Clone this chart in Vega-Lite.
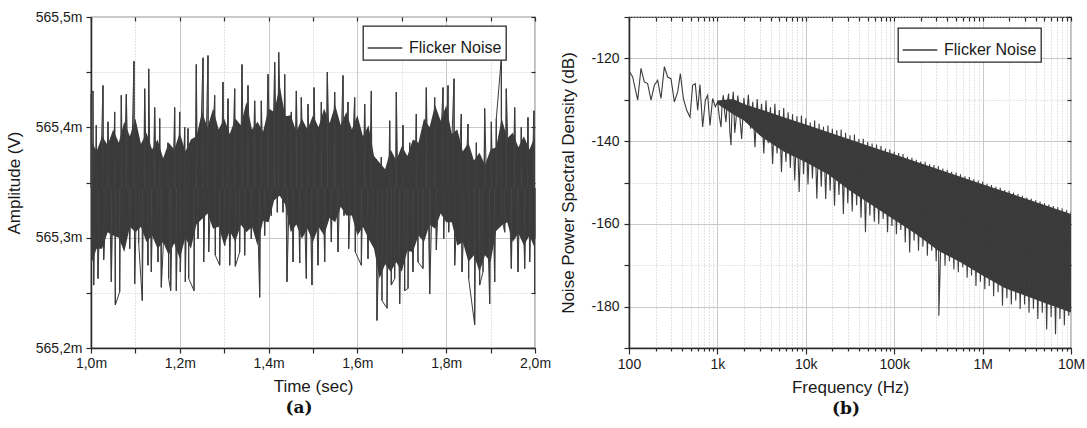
{
  "$schema": "https://vega.github.io/schema/vega-lite/v6.json",
  "background": "white",
  "padding": {"left": 4, "top": 9, "right": 0, "bottom": 0},
  "config": {
    "font": "Liberation Sans",
    "view": {"stroke": "#2a2a2a", "strokeWidth": 1.2},
    "axis": {"labelFont": "Liberation Sans", "labelFontSize": 14, "labelColor": "#1a1a1a", "titleFont": "Liberation Sans", "titleFontSize": 17, "titleFontWeight": "normal", "titleColor": "#1a1a1a", "tickColor": "#2a2a2a", "domainColor": "#2a2a2a", "domainWidth": 1.5, "tickWidth": 1.2, "gridColor": "#c9c9c9", "gridWidth": 1},
    "legend": {"strokeColor": "#2a2a2a", "strokeWidth": 1.3, "fillColor": "white", "padding": 4, "labelFont": "Liberation Sans", "labelFontSize": 16, "labelColor": "#1a1a1a", "symbolType": "stroke", "symbolSize": 1200, "symbolStrokeWidth": 1.3, "labelOffset": 6, "rowPadding": 0},
    "title": {"font": "DejaVu Serif", "fontSize": 17, "fontWeight": "bold", "color": "#111111"}
  },
  "datasets": {
    "a_core": [
      {"t": 1.0, "top": 565.389, "bot": 565.275}, {"t": 1.0125, "top": 565.378, "bot": 565.290}, {"t": 1.025, "top": 565.392, "bot": 565.290}, {"t": 1.0375, "top": 565.384, "bot": 565.305}, {"t": 1.05, "top": 565.398, "bot": 565.302}, {"t": 1.0625, "top": 565.386, "bot": 565.300}, {"t": 1.075, "top": 565.405, "bot": 565.287}, {"t": 1.0875, "top": 565.392, "bot": 565.310}, {"t": 1.1, "top": 565.408, "bot": 565.305}, {"t": 1.1125, "top": 565.385, "bot": 565.310}, {"t": 1.125, "top": 565.395, "bot": 565.296}, {"t": 1.1375, "top": 565.380, "bot": 565.302}, {"t": 1.15, "top": 565.389, "bot": 565.290}, {"t": 1.1625, "top": 565.372, "bot": 565.296}, {"t": 1.175, "top": 565.386, "bot": 565.284}, {"t": 1.1875, "top": 565.380, "bot": 565.295}, {"t": 1.2, "top": 565.395, "bot": 565.281}, {"t": 1.2125, "top": 565.378, "bot": 565.300}, {"t": 1.225, "top": 565.389, "bot": 565.290}, {"t": 1.2375, "top": 565.392, "bot": 565.312}, {"t": 1.25, "top": 565.414, "bot": 565.317}, {"t": 1.2625, "top": 565.400, "bot": 565.322}, {"t": 1.275, "top": 565.417, "bot": 565.308}, {"t": 1.2875, "top": 565.398, "bot": 565.310}, {"t": 1.3, "top": 565.408, "bot": 565.293}, {"t": 1.3125, "top": 565.394, "bot": 565.306}, {"t": 1.325, "top": 565.408, "bot": 565.296}, {"t": 1.3375, "top": 565.402, "bot": 565.312}, {"t": 1.35, "top": 565.423, "bot": 565.305}, {"t": 1.3625, "top": 565.398, "bot": 565.310}, {"t": 1.375, "top": 565.405, "bot": 565.293}, {"t": 1.3875, "top": 565.396, "bot": 565.315}, {"t": 1.4, "top": 565.417, "bot": 565.314}, {"t": 1.4125, "top": 565.414, "bot": 565.334}, {"t": 1.425, "top": 565.438, "bot": 565.338}, {"t": 1.4375, "top": 565.410, "bot": 565.330}, {"t": 1.45, "top": 565.411, "bot": 565.305}, {"t": 1.4625, "top": 565.396, "bot": 565.312}, {"t": 1.475, "top": 565.408, "bot": 565.299}, {"t": 1.4875, "top": 565.398, "bot": 565.308}, {"t": 1.5, "top": 565.411, "bot": 565.296}, {"t": 1.5125, "top": 565.400, "bot": 565.310}, {"t": 1.525, "top": 565.417, "bot": 565.302}, {"t": 1.5375, "top": 565.404, "bot": 565.318}, {"t": 1.55, "top": 565.420, "bot": 565.314}, {"t": 1.5625, "top": 565.402, "bot": 565.328}, {"t": 1.575, "top": 565.414, "bot": 565.320}, {"t": 1.5875, "top": 565.398, "bot": 565.320}, {"t": 1.6, "top": 565.411, "bot": 565.302}, {"t": 1.6125, "top": 565.392, "bot": 565.310}, {"t": 1.625, "top": 565.402, "bot": 565.299}, {"t": 1.6375, "top": 565.374, "bot": 565.290}, {"t": 1.65, "top": 565.368, "bot": 565.263}, {"t": 1.6625, "top": 565.362, "bot": 565.276}, {"t": 1.675, "top": 565.380, "bot": 565.269}, {"t": 1.6875, "top": 565.370, "bot": 565.278}, {"t": 1.7, "top": 565.383, "bot": 565.269}, {"t": 1.7125, "top": 565.374, "bot": 565.288}, {"t": 1.725, "top": 565.389, "bot": 565.287}, {"t": 1.7375, "top": 565.386, "bot": 565.302}, {"t": 1.75, "top": 565.408, "bot": 565.296}, {"t": 1.7625, "top": 565.400, "bot": 565.312}, {"t": 1.775, "top": 565.420, "bot": 565.308}, {"t": 1.7875, "top": 565.406, "bot": 565.322}, {"t": 1.8, "top": 565.420, "bot": 565.314}, {"t": 1.8125, "top": 565.394, "bot": 565.314}, {"t": 1.825, "top": 565.398, "bot": 565.293}, {"t": 1.8375, "top": 565.378, "bot": 565.296}, {"t": 1.85, "top": 565.386, "bot": 565.278}, {"t": 1.8625, "top": 565.370, "bot": 565.284}, {"t": 1.875, "top": 565.377, "bot": 565.269}, {"t": 1.8875, "top": 565.366, "bot": 565.284}, {"t": 1.9, "top": 565.380, "bot": 565.278}, {"t": 1.9125, "top": 565.382, "bot": 565.306}, {"t": 1.925, "top": 565.408, "bot": 565.311}, {"t": 1.9375, "top": 565.390, "bot": 565.314}, {"t": 1.95, "top": 565.395, "bot": 565.296}, {"t": 1.9625, "top": 565.382, "bot": 565.304}, {"t": 1.975, "top": 565.392, "bot": 565.293}, {"t": 1.9875, "top": 565.380, "bot": 565.302}, {"t": 2.0, "top": 565.392, "bot": 565.290}
    ],
    "a_line": [
      {"t": 1.0, "v": 565.430}, {"t": 1.0045, "v": 565.433}, {"t": 1.0120, "v": 565.402}, {"t": 1.0270, "v": 565.438}, {"t": 1.0383, "v": 565.405}, {"t": 1.0533, "v": 565.414}, {"t": 1.0683, "v": 565.429}, {"t": 1.0796, "v": 565.430}, {"t": 1.0968, "v": 565.460}, {"t": 1.1059, "v": 565.389}, {"t": 1.1209, "v": 565.435}, {"t": 1.1299, "v": 565.453}, {"t": 1.1434, "v": 565.418}, {"t": 1.1547, "v": 565.408}, {"t": 1.1734, "v": 565.386}, {"t": 1.1884, "v": 565.418}, {"t": 1.1997, "v": 565.414}, {"t": 1.2110, "v": 565.400}, {"t": 1.2185, "v": 565.399}, {"t": 1.2372, "v": 565.457}, {"t": 1.2523, "v": 565.463}, {"t": 1.2635, "v": 565.465}, {"t": 1.2785, "v": 565.429}, {"t": 1.2973, "v": 565.441}, {"t": 1.3086, "v": 565.426}, {"t": 1.3236, "v": 565.435}, {"t": 1.3401, "v": 565.457}, {"t": 1.3536, "v": 565.438}, {"t": 1.3686, "v": 565.424}, {"t": 1.3836, "v": 565.424}, {"t": 1.3986, "v": 565.448}, {"t": 1.4137, "v": 565.459}, {"t": 1.4227, "v": 565.468}, {"t": 1.4362, "v": 565.448}, {"t": 1.4512, "v": 565.414}, {"t": 1.4625, "v": 565.433}, {"t": 1.4737, "v": 565.427}, {"t": 1.4887, "v": 565.421}, {"t": 1.5023, "v": 565.436}, {"t": 1.5188, "v": 565.423}, {"t": 1.5323, "v": 565.450}, {"t": 1.5488, "v": 565.432}, {"t": 1.5676, "v": 565.447}, {"t": 1.5788, "v": 565.423}, {"t": 1.5938, "v": 565.427}, {"t": 1.6164, "v": 565.421}, {"t": 1.6314, "v": 565.433}, {"t": 1.6426, "v": 565.371}, {"t": 1.6539, "v": 565.373}, {"t": 1.6727, "v": 565.406}, {"t": 1.6877, "v": 565.432}, {"t": 1.7027, "v": 565.402}, {"t": 1.7177, "v": 565.386}, {"t": 1.7327, "v": 565.412}, {"t": 1.7553, "v": 565.436}, {"t": 1.7740, "v": 565.427}, {"t": 1.7928, "v": 565.436}, {"t": 1.8041, "v": 565.438}, {"t": 1.8176, "v": 565.444}, {"t": 1.8341, "v": 565.412}, {"t": 1.8491, "v": 565.403}, {"t": 1.8679, "v": 565.386}, {"t": 1.8866, "v": 565.417}, {"t": 1.9017, "v": 565.405}, {"t": 1.9129, "v": 565.408}, {"t": 1.9242, "v": 565.463}, {"t": 1.9354, "v": 565.435}, {"t": 1.9542, "v": 565.418}, {"t": 1.9692, "v": 565.400}, {"t": 1.9842, "v": 565.409}, {"t": 1.9977, "v": 565.415},
      {"t": 1.0060, "v": 565.257}, {"t": 1.0158, "v": 565.263}, {"t": 1.0285, "v": 565.280}, {"t": 1.0345, "v": 565.329}, {"t": 1.0458, "v": 565.260}, {"t": 1.0548, "v": 565.239}, {"t": 1.0646, "v": 565.251}, {"t": 1.0721, "v": 565.320}, {"t": 1.0871, "v": 565.290}, {"t": 1.0983, "v": 565.258}, {"t": 1.1074, "v": 565.295}, {"t": 1.1156, "v": 565.243}, {"t": 1.1284, "v": 565.275}, {"t": 1.1359, "v": 565.269}, {"t": 1.1509, "v": 565.278}, {"t": 1.1584, "v": 565.255}, {"t": 1.1749, "v": 565.263}, {"t": 1.1794, "v": 565.252}, {"t": 1.1922, "v": 565.252}, {"t": 1.2012, "v": 565.269}, {"t": 1.2125, "v": 565.260}, {"t": 1.2200, "v": 565.263}, {"t": 1.2320, "v": 565.252}, {"t": 1.2410, "v": 565.299}, {"t": 1.2538, "v": 565.278}, {"t": 1.2650, "v": 565.287}, {"t": 1.2800, "v": 565.284}, {"t": 1.2898, "v": 565.275}, {"t": 1.3011, "v": 565.293}, {"t": 1.3123, "v": 565.275}, {"t": 1.3251, "v": 565.274}, {"t": 1.3348, "v": 565.287}, {"t": 1.3461, "v": 565.284}, {"t": 1.3611, "v": 565.299}, {"t": 1.3799, "v": 565.246}, {"t": 1.3911, "v": 565.302}, {"t": 1.4062, "v": 565.320}, {"t": 1.4197, "v": 565.323}, {"t": 1.4324, "v": 565.323}, {"t": 1.4414, "v": 565.260}, {"t": 1.4550, "v": 565.278}, {"t": 1.4700, "v": 565.277}, {"t": 1.4850, "v": 565.263}, {"t": 1.4977, "v": 565.257}, {"t": 1.5113, "v": 565.275}, {"t": 1.5263, "v": 565.278}, {"t": 1.5413, "v": 565.296}, {"t": 1.5563, "v": 565.287}, {"t": 1.5698, "v": 565.320}, {"t": 1.5803, "v": 565.290}, {"t": 1.5953, "v": 565.287}, {"t": 1.6089, "v": 565.275}, {"t": 1.6239, "v": 565.281}, {"t": 1.6336, "v": 565.299}, {"t": 1.6441, "v": 565.225}, {"t": 1.6554, "v": 565.243}, {"t": 1.6667, "v": 565.236}, {"t": 1.6764, "v": 565.257}, {"t": 1.6839, "v": 565.263}, {"t": 1.6952, "v": 565.240}, {"t": 1.7065, "v": 565.252}, {"t": 1.7140, "v": 565.254}, {"t": 1.7252, "v": 565.269}, {"t": 1.7365, "v": 565.278}, {"t": 1.7477, "v": 565.272}, {"t": 1.7628, "v": 565.249}, {"t": 1.7778, "v": 565.289}, {"t": 1.7943, "v": 565.299}, {"t": 1.8056, "v": 565.305}, {"t": 1.8191, "v": 565.275}, {"t": 1.8356, "v": 565.269}, {"t": 1.8506, "v": 565.263}, {"t": 1.8641, "v": 565.221}, {"t": 1.8754, "v": 565.257}, {"t": 1.8829, "v": 565.269}, {"t": 1.8979, "v": 565.240}, {"t": 1.9092, "v": 565.260}, {"t": 1.9257, "v": 565.317}, {"t": 1.9317, "v": 565.305}, {"t": 1.9467, "v": 565.272}, {"t": 1.9617, "v": 565.269}, {"t": 1.9767, "v": 565.272}, {"t": 1.9880, "v": 565.278}, {"t": 1.9992, "v": 565.249}, {"t": 2.0, "v": 565.300}
    ],
    "b_core": [
      {"f": 1000, "top": -130.2, "bot": -131.0}, {"f": 1500, "top": -129.8, "bot": -133.5}, {"f": 1995, "top": -131.0, "bot": -135.0}, {"f": 3162, "top": -132.4, "bot": -139.0}, {"f": 5623, "top": -134.2, "bot": -142.5}, {"f": 10000, "top": -136.0, "bot": -145.1}, {"f": 17783, "top": -137.8, "bot": -148.0}, {"f": 31623, "top": -139.6, "bot": -152.0}, {"f": 56234, "top": -141.4, "bot": -155.5}, {"f": 100000, "top": -143.2, "bot": -159.0}, {"f": 177828, "top": -145.0, "bot": -162.5}, {"f": 316228, "top": -146.8, "bot": -166.5}, {"f": 562341, "top": -148.6, "bot": -169.3}, {"f": 1000000, "top": -150.4, "bot": -172.5}, {"f": 1778279, "top": -152.2, "bot": -175.5}, {"f": 3162278, "top": -154.0, "bot": -177.5}, {"f": 5623413, "top": -155.8, "bot": -179.5}, {"f": 10000000, "top": -157.6, "bot": -181.4}
    ],
    "b_line": [
      {"f": 100, "v": -123.0}, {"f": 110, "v": -124.5}, {"f": 125.4, "v": -130.1}, {"f": 136.7, "v": -122.4}, {"f": 149, "v": -125.7}, {"f": 162.5, "v": -126.1}, {"f": 177.4, "v": -130.1}, {"f": 193.6, "v": -126.5}, {"f": 210.9, "v": -125.3}, {"f": 230.1, "v": -129.7}, {"f": 251.2, "v": -122.0}, {"f": 273.5, "v": -124.5}, {"f": 298.5, "v": -124.9}, {"f": 325.8, "v": -130.5}, {"f": 355.6, "v": -128.1}, {"f": 381, "v": -123.7}, {"f": 412.1, "v": -129.7}, {"f": 448.7, "v": -132.5}, {"f": 489.8, "v": -134.2}, {"f": 524.8, "v": -126.5}, {"f": 562.3, "v": -126.1}, {"f": 598.4, "v": -132.5}, {"f": 635.3, "v": -126.3}, {"f": 680.8, "v": -136.6}, {"f": 731.1, "v": -130.1}, {"f": 776.2, "v": -128.9}, {"f": 824.1, "v": -136.2}, {"f": 883.1, "v": -129.7}, {"f": 948.4, "v": -131.7}, {"f": 1006.9, "v": -130.5}, {"f": 1050, "v": -134.0}, {"f": 1099, "v": -136.6}, {"f": 1130, "v": -131.0}, {"f": 1167, "v": -128.9}, {"f": 1210, "v": -133.0}, {"f": 1250, "v": -135.4}, {"f": 1295, "v": -130.5}, {"f": 1340, "v": -128.5}, {"f": 1380, "v": -137.5}, {"f": 1425, "v": -141.0}, {"f": 1470, "v": -131.0}, {"f": 1514, "v": -128.1}, {"f": 1570, "v": -138.0}, {"f": 1622, "v": -135.0}, {"f": 1700, "v": -129.0}, {"f": 1770, "v": -132.5}, {"f": 1880, "v": -139.5},
      {"f": 1995, "v": -129.5}, {"f": 2239, "v": -128.8}, {"f": 2512, "v": -130.5}, {"f": 2818, "v": -129.8}, {"f": 3162, "v": -131.0}, {"f": 3548, "v": -130.2}, {"f": 3981, "v": -131.8}, {"f": 4467, "v": -131.0}, {"f": 5012, "v": -132.5}, {"f": 5623, "v": -132.0}, {"f": 6310, "v": -133.0}, {"f": 7079, "v": -133.5}, {"f": 7943, "v": -134.0}, {"f": 8913, "v": -133.8}, {"f": 10000, "v": -134.5}, {"f": 11220, "v": -135.5}, {"f": 12589, "v": -135.0}, {"f": 14125, "v": -135.8}, {"f": 15849, "v": -136.5}, {"f": 17783, "v": -136.2}, {"f": 19953, "v": -137.0}, {"f": 22387, "v": -137.4}, {"f": 25119, "v": -137.2}, {"f": 28184, "v": -138.0}, {"f": 31623, "v": -138.6}, {"f": 35481, "v": -138.4}, {"f": 39811, "v": -139.5}, {"f": 44668, "v": -139.4}, {"f": 50119, "v": -140.2}, {"f": 56234, "v": -140.6}, {"f": 63096, "v": -140.8}, {"f": 70795, "v": -141.2}, {"f": 79433, "v": -141.8}, {"f": 89125, "v": -142.0}, {"f": 100000, "v": -142.6}, {"f": 112202, "v": -142.9}, {"f": 125893, "v": -143.1}, {"f": 141254, "v": -143.8}, {"f": 158489, "v": -144.0}, {"f": 177828, "v": -144.5}, {"f": 199526, "v": -144.9}, {"f": 223872, "v": -145.0}, {"f": 251189, "v": -145.6}, {"f": 281838, "v": -145.8}, {"f": 316228, "v": -146.0}, {"f": 354813, "v": -146.6}, {"f": 398107, "v": -146.9}, {"f": 446684, "v": -147.4}, {"f": 501187, "v": -147.6}, {"f": 562341, "v": -148.0}, {"f": 630957, "v": -148.5}, {"f": 707946, "v": -148.7}, {"f": 794328, "v": -149.2}, {"f": 891251, "v": -149.5}, {"f": 1000000, "v": -149.8}, {"f": 1122018, "v": -150.3}, {"f": 1258925, "v": -150.6}, {"f": 1412538, "v": -151.0}, {"f": 1584893, "v": -151.3}, {"f": 1778279, "v": -151.8}, {"f": 1995262, "v": -152.0}, {"f": 2238721, "v": -152.5}, {"f": 2511886, "v": -152.8}, {"f": 2818383, "v": -153.2}, {"f": 3162278, "v": -153.6}, {"f": 3548134, "v": -153.9}, {"f": 3981072, "v": -154.3}, {"f": 4466836, "v": -154.6}, {"f": 5011872, "v": -155.0}, {"f": 5623413, "v": -155.3}, {"f": 6309573, "v": -155.7}, {"f": 7079458, "v": -156.0}, {"f": 7943282, "v": -156.2}, {"f": 8912509, "v": -156.7}, {"f": 10000000, "v": -157.0},
      {"f": 2113, "v": -135.5}, {"f": 2371, "v": -137.0}, {"f": 2661, "v": -141.5}, {"f": 2985, "v": -138.5}, {"f": 3350, "v": -143.0}, {"f": 3758, "v": -140.5}, {"f": 4217, "v": -145.5}, {"f": 4732, "v": -143.0}, {"f": 5309, "v": -147.5}, {"f": 5957, "v": -145.0}, {"f": 6683, "v": -146.5}, {"f": 7499, "v": -149.5}, {"f": 8414, "v": -152.3}, {"f": 9441, "v": -148.0}, {"f": 10593, "v": -150.5}, {"f": 11885, "v": -149.0}, {"f": 13335, "v": -153.9}, {"f": 14962, "v": -151.0}, {"f": 16788, "v": -154.0}, {"f": 18836, "v": -152.0}, {"f": 21135, "v": -155.6}, {"f": 23714, "v": -153.0}, {"f": 26607, "v": -157.6}, {"f": 29854, "v": -155.0}, {"f": 33497, "v": -157.0}, {"f": 37584, "v": -155.5}, {"f": 42170, "v": -158.5}, {"f": 47315, "v": -162.0}, {"f": 53088, "v": -158.0}, {"f": 59566, "v": -159.5}, {"f": 66834, "v": -160.0}, {"f": 74989, "v": -158.8}, {"f": 84140, "v": -162.0}, {"f": 94406, "v": -160.5}, {"f": 105925, "v": -162.5}, {"f": 118850, "v": -161.5}, {"f": 133352, "v": -164.5}, {"f": 149624, "v": -166.9}, {"f": 167880, "v": -164.0}, {"f": 188365, "v": -166.5}, {"f": 211349, "v": -165.5}, {"f": 237137, "v": -167.7}, {"f": 266073, "v": -166.5}, {"f": 298538, "v": -169.0}, {"f": 319890, "v": -182.2}, {"f": 375837, "v": -170.1}, {"f": 421697, "v": -169.0}, {"f": 473151, "v": -171.0}, {"f": 530884, "v": -171.7}, {"f": 595662, "v": -170.5}, {"f": 668344, "v": -173.0}, {"f": 749894, "v": -172.5}, {"f": 841395, "v": -175.0}, {"f": 944061, "v": -174.0}, {"f": 1059254, "v": -175.8}, {"f": 1188502, "v": -175.0}, {"f": 1333521, "v": -177.5}, {"f": 1496236, "v": -176.5}, {"f": 1678804, "v": -179.8}, {"f": 1883649, "v": -178.0}, {"f": 2113489, "v": -179.5}, {"f": 2371374, "v": -178.5}, {"f": 2660725, "v": -180.6}, {"f": 2985383, "v": -179.5}, {"f": 3349654, "v": -181.5}, {"f": 3758374, "v": -180.5}, {"f": 4216965, "v": -183.0}, {"f": 4731513, "v": -181.5}, {"f": 5308844, "v": -185.5}, {"f": 5956621, "v": -182.5}, {"f": 6683439, "v": -186.7}, {"f": 7498942, "v": -183.0}, {"f": 8413951, "v": -184.5}, {"f": 9440609, "v": -182.2}
    ]
  },
  "hconcat": [
    {
      "width": 444,
      "height": 331,
      "title": {"text": "(a)", "orient": "bottom", "anchor": "middle", "dx": -14, "offset": 6},
      "layer": [
        {
          "data": {"name": "a_core"},
          "mark": {"type": "area", "color": "#3a3a3a"},
          "encoding": {
            "x": {"field": "t", "type": "quantitative", "scale": {"domain": [1, 2], "nice": false, "zero": false},
              "axis": {"orient": "bottom", "title": "Time (sec)", "values": [1, 1.1, 1.2, 1.3, 1.4, 1.5, 1.6, 1.7, 1.8, 1.9, 2],
                "labelExpr": "round(datum.value*10)%2==0 ? replace(format(datum.value,'.1f'),'.',',')+'m' : ''",
                "grid": true, "gridDash": {"condition": {"test": "round(datum.value*10)%2==1", "value": [1, 2]}, "value": []},
                "tickSize": 5, "labelPadding": 3, "titlePadding": 8, "labelFlush": false, "labelOverlap": false}},
            "y": {"field": "top", "type": "quantitative", "scale": {"domain": [565.2, 565.5], "nice": false, "zero": false},
              "axis": {"orient": "left", "title": "Amplitude (V)", "values": [565.2, 565.25, 565.3, 565.35, 565.4, 565.45, 565.5],
                "labelExpr": "round(datum.value*100)%10==0 ? replace(format(datum.value,'.1f'),'.',',')+'m' : ''",
                "grid": true, "gridDash": {"condition": {"test": "round(datum.value*100)%10==5", "value": [1, 2]}, "value": []},
                "tickSize": 5, "labelPadding": 4, "titlePadding": 12, "labelOverlap": false}},
            "y2": {"field": "bot"}
          }
        },
        {
          "data": {"name": "a_line"},
          "mark": {"type": "rule", "strokeWidth": 1.3, "color": "#454545"},
          "encoding": {
            "x": {"field": "t", "type": "quantitative", "scale": {"domain": [1, 2], "nice": false, "zero": false}, "axis": null},
            "y": {"field": "v", "type": "quantitative", "scale": {"domain": [565.2, 565.5], "nice": false, "zero": false}, "axis": null},
            "y2": {"datum": 565.345}
          }
        },
        {
          "data": {"name": "a_line"},
          "mark": {"type": "line", "strokeWidth": 1, "clip": true},
          "encoding": {
            "x": {"field": "t", "type": "quantitative", "scale": {"domain": [1, 2], "nice": false, "zero": false},
              "axis": {"orient": "top", "values": [1, 1.1, 1.2, 1.3, 1.4, 1.5, 1.6, 1.7, 1.8, 1.9, 2], "labels": false, "title": null, "grid": false, "domain": false, "tickSize": -4, "minExtent": 0, "maxExtent": 0}},
            "y": {"field": "v", "type": "quantitative", "scale": {"domain": [565.2, 565.5], "nice": false, "zero": false},
              "axis": {"orient": "right", "values": [565.2, 565.25, 565.3, 565.35, 565.4, 565.45, 565.5], "labels": false, "title": null, "grid": false, "domain": false, "tickSize": -4, "minExtent": 0, "maxExtent": 0}},
            "color": {"datum": "Flicker Noise", "type": "nominal", "scale": {"range": ["#3c3c3c"]}, "legend": {"title": null, "orient": "none", "legendX": 272, "legendY": 9}}
          }
        }
      ],
      "resolve": {"axis": {"x": "independent", "y": "independent"}}
    },
    {
      "width": 442,
      "height": 331,
      "title": {"text": "(b)", "orient": "bottom", "anchor": "middle", "dx": -4, "offset": 6},
      "layer": [
        {
          "data": {"name": "b_core"},
          "mark": {"type": "area", "color": "#3a3a3a"},
          "encoding": {
            "x": {"field": "f", "type": "quantitative", "scale": {"type": "log", "domain": [100, 10000000], "nice": false},
              "axis": {"orient": "bottom", "title": "Frequency (Hz)",
                "values": [100, 200, 300, 400, 500, 600, 700, 800, 900, 1000, 2000, 3000, 4000, 5000, 6000, 7000, 8000, 9000, 10000, 20000, 30000, 40000, 50000, 60000, 70000, 80000, 90000, 100000, 200000, 300000, 400000, 500000, 600000, 700000, 800000, 900000, 1000000, 2000000, 3000000, 4000000, 5000000, 6000000, 7000000, 8000000, 9000000, 10000000],
                "labelExpr": "abs(log(datum.value)/LN10 - round(log(datum.value)/LN10)) < 0.001 ? format(datum.value, '~s') : ''",
                "grid": true, "gridDash": {"condition": {"test": "abs(log(datum.value)/LN10 - round(log(datum.value)/LN10)) > 0.001", "value": [1, 2]}, "value": []},
                "tickSize": {"condition": {"test": "abs(log(datum.value)/LN10 - round(log(datum.value)/LN10)) > 0.001", "value": 3}, "value": 6},
                "labelPadding": 3, "titlePadding": 8, "labelFlush": false, "labelOverlap": false}},
            "y": {"field": "top", "type": "quantitative", "scale": {"domain": [-190, -110], "nice": false, "zero": false},
              "axis": {"orient": "left", "title": "Noise Power Spectral Density (dB)", "values": [-190, -180, -170, -160, -150, -140, -130, -120, -110],
                "labelExpr": "datum.value % 20 == 0 ? '' + datum.value : ''",
                "grid": true, "gridDash": {"condition": {"test": "datum.value % 20 != 0", "value": [1, 2]}, "value": []},
                "tickSize": 5, "labelPadding": 5, "titlePadding": 13, "labelOverlap": false}},
            "y2": {"field": "bot"}
          }
        },
        {
          "data": {"name": "b_line"},
          "mark": {"type": "line", "strokeWidth": 1.1, "clip": true},
          "encoding": {
            "x": {"field": "f", "type": "quantitative", "scale": {"type": "log", "domain": [100, 10000000], "nice": false},
              "axis": {"orient": "top", "values": [100, 200, 300, 400, 500, 600, 700, 800, 900, 1000, 2000, 3000, 4000, 5000, 6000, 7000, 8000, 9000, 10000, 20000, 30000, 40000, 50000, 60000, 70000, 80000, 90000, 100000, 200000, 300000, 400000, 500000, 600000, 700000, 800000, 900000, 1000000, 2000000, 3000000, 4000000, 5000000, 6000000, 7000000, 8000000, 9000000, 10000000],
                "labels": false, "title": null, "grid": false, "domain": false, "tickSize": -4, "minExtent": 0, "maxExtent": 0}},
            "y": {"field": "v", "type": "quantitative", "scale": {"domain": [-190, -110], "nice": false, "zero": false},
              "axis": {"orient": "right", "values": [-190, -180, -170, -160, -150, -140, -130, -120, -110], "labels": false, "title": null, "grid": false, "domain": false, "tickSize": -4, "minExtent": 0, "maxExtent": 0}},
            "color": {"datum": "Flicker Noise", "type": "nominal", "scale": {"range": ["#3c3c3c"]}, "legend": {"title": null, "orient": "none", "legendX": 269, "legendY": 11}}
          }
        }
      ],
      "resolve": {"axis": {"x": "independent", "y": "independent"}}
    }
  ],
  "spacing": 7,
  "resolve": {"scale": {"color": "independent"}, "legend": {"color": "independent"}}
}
